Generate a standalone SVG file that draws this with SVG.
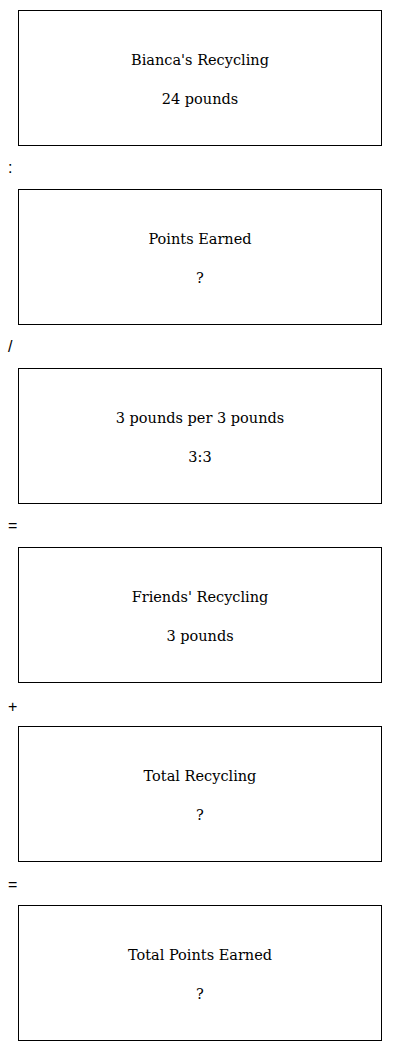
<svg xmlns="http://www.w3.org/2000/svg" width="400" height="1051" viewBox="0 0 400 1051">
<style>
.box{fill:#fff;stroke:#000;stroke-width:1}
.t{font-family:"DejaVu Serif",serif;font-size:14.5px;fill:#000;text-anchor:middle}
.op{font-family:"Liberation Sans",Arial,sans-serif;font-size:16px;fill:#000}
</style>
<rect width="400" height="1051" fill="#fff"/>
<g id="node-bianca">
<rect class="box" x="18.5" y="10.5" width="363" height="135"/>
<text class="t" x="200" y="65">Bianca's Recycling</text>
<text class="t" x="200" y="104">24 pounds</text>
</g>
<g id="node-points">
<rect class="box" x="18.5" y="189.5" width="363" height="135"/>
<text class="t" x="200" y="244">Points Earned</text>
<text class="t" x="200" y="283">?</text>
</g>
<g id="node-ratio">
<rect class="box" x="18.5" y="368.5" width="363" height="135"/>
<text class="t" x="200" y="423">3 pounds per 3 pounds</text>
<text class="t" x="200" y="462">3:3</text>
</g>
<g id="node-friends">
<rect class="box" x="18.5" y="547.5" width="363" height="135"/>
<text class="t" x="200" y="602">Friends' Recycling</text>
<text class="t" x="200" y="641">3 pounds</text>
</g>
<g id="node-total">
<rect class="box" x="18.5" y="726.5" width="363" height="135"/>
<text class="t" x="200" y="781">Total Recycling</text>
<text class="t" x="200" y="820">?</text>
</g>
<g id="node-totalpoints">
<rect class="box" x="18.5" y="905.5" width="363" height="135"/>
<text class="t" x="200" y="960">Total Points Earned</text>
<text class="t" x="200" y="999">?</text>
</g>
<g id="connectors">
<text class="op" x="8" y="173">:</text>
<text class="op" x="8" y="352">/</text>
<text class="op" x="8" y="531">=</text>
<text class="op" x="8" y="712">+</text>
<text class="op" x="8" y="890">=</text>
</g>
</svg>
